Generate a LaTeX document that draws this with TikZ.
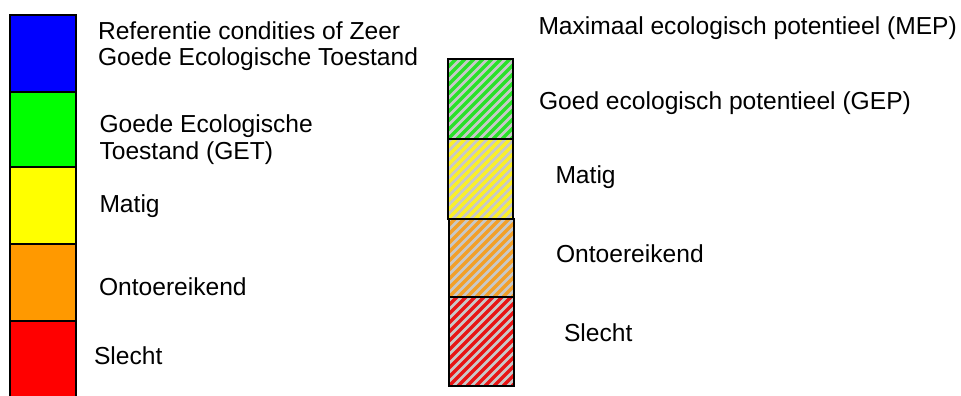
\documentclass[tikz,border=0pt]{standalone}
\usepackage{fontspec}
\setmainfont{Liberation Sans}
\definecolor{cblue}{RGB}{0,0,255}
\definecolor{cgreen}{RGB}{0,255,0}
\definecolor{cyellow}{RGB}{255,255,0}
\definecolor{corange}{RGB}{255,153,0}
\definecolor{cred}{RGB}{255,0,0}
\definecolor{hgray}{RGB}{200,200,200}
\definecolor{hgreen}{RGB}{40,225,40}
\definecolor{hyellow}{RGB}{250,240,40}
\definecolor{horange}{RGB}{242,160,40}
\definecolor{hred}{RGB}{232,20,20}
\begin{document}
\begin{tikzpicture}[x=1pt,y=-1pt,
  lbl/.style={anchor=base west, inner sep=0pt, outer sep=0pt, font=\fontsize{24.6}{27}\selectfont},
  boxline/.style={draw=black, line width=2.5pt},
  stripe/.style={line width=3.4pt}]
\useasboundingbox (0,0) rectangle (961,396);
% left column, solid colours
\foreach \ya/\yb/\c in {15/92/cblue, 92/167/cgreen, 167/244/cyellow, 244/321/corange, 321/400/cred}
  \fill[\c] (10,\ya) rectangle (76,\yb);
\foreach \ya/\yb in {15/92, 92/167, 167/244, 244/321, 321/400}
  \draw[boxline] (10,\ya) rectangle (76,\yb);
% right column, hatched
\foreach \x/\ya/\yb/\c in {448/59/139/hgreen, 448/139/219/hyellow, 449/219/297/horange, 449/297/386/hred}{
  \begin{scope}
    \clip (\x,\ya) rectangle (\x+65,\yb);
    \fill[hgray] (\x,\ya) rectangle (\x+65,\yb);
    \foreach \k in {-12,...,9}
      \draw[\c, stripe] (\x+\k*9,\yb) -- ++(100,-100);
  \end{scope}
}
\foreach \x/\ya/\yb in {448/59/139, 448/139/219, 449/219/297, 449/297/386}
  \draw[boxline] (\x,\ya) rectangle (\x+65,\yb);
% left labels
\node[lbl] (l1a) at (98,39.5) {Referentie condities of Zeer};
\node[lbl] (l1b) at (98,66) {Goede Ecologische Toestand};
\node[lbl] (l2a) at (99.5,132) {Goede Ecologische};
\node[lbl] (l2b) at (99.5,159) {Toestand (GET)};
\node[lbl] (l3) at (99.5,212) {Matig};
\node[lbl] (l4) at (99,295) {Ontoereikend};
\node[lbl] (l5) at (94,364) {Slecht};
% right labels
\node[lbl] (r1) at (538.5,35) {Maximaal ecologisch potentieel (MEP)};
\node[lbl] (r2) at (539,110) {Goed ecologisch potentieel (GEP)};
\node[lbl] (r3) at (555.5,183) {Matig};
\node[lbl] (r4) at (556,262) {Ontoereikend};
\node[lbl] (r5) at (564,341) {Slecht};
\end{tikzpicture}
\end{document}
